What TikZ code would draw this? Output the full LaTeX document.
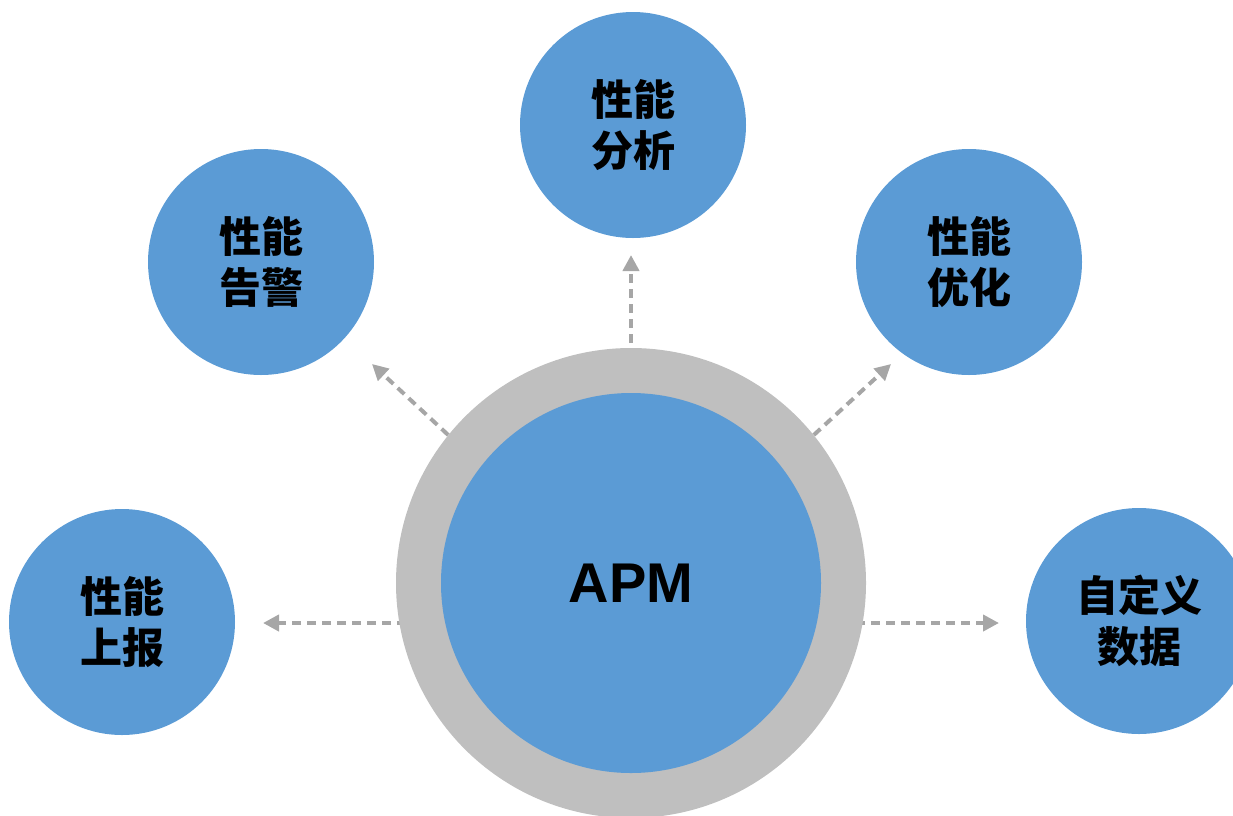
\documentclass[tikz,border=0pt]{standalone}
\usepackage{fontspec}
\setmainfont{Liberation Sans}
\newfontfamily\cjk{Noto Sans CJK SC}
\usetikzlibrary{arrows.meta,backgrounds}
\definecolor{bubble}{HTML}{5B9BD5}
\definecolor{ringgray}{HTML}{BFBFBF}
\definecolor{arrowgray}{HTML}{A6A6A6}
\tikzset{
  bubble/.style={circle, fill=bubble, draw=none, minimum size=226pt, inner sep=0pt,
    align=center, font=\cjk\bfseries\fontsize{42}{51}\selectfont},
  ringnode/.style={circle, fill=ringgray, draw=none, minimum size=470pt, inner sep=0pt},
  corenode/.style={circle, fill=bubble, draw=none, minimum size=380pt, inner sep=0pt,
    font=\bfseries\fontsize{56}{60}\selectfont},
  flow/.style={draw=arrowgray, line width=4pt, dash pattern=on 9pt off 6pt,
    -{Triangle[length=16pt,width=16pt,fill=arrowgray]}}
}
\begin{document}
\begin{tikzpicture}[x=1pt,y=-1pt]
  \useasboundingbox (0,0) rectangle (1233,815);
  \clip (0,0) rectangle (1233,815);

  % hub: grey ring with the blue core
  \node[ringnode] (ring) at (631,583) {};
  \node[corenode] (core) at (631,583) {APM};

  % surrounding topics
  \node[bubble] (analyse) at (633,125) {性能\\分析};
  \node[bubble] (alarm)   at (261,262) {性能\\告警};
  \node[bubble] (tune)    at (969,262) {性能\\优化};
  \node[bubble] (report)  at (122,622) {性能\\上报};
  \node[bubble] (custom)  at (1139,621) {自定义\\数据};

  % arrow tips stop short of the bubbles
  \coordinate (tipA) at (631,255);
  \coordinate (tipB) at (372,364);
  \coordinate (tipC) at (891,364);
  \coordinate (tipD) at (263,623);
  \coordinate (tipE) at (999,623);

  % arrows run out from under the ring
  \begin{scope}[on background layer]
    \draw[flow] (ring.center) -- (tipA);
    \draw[flow] (ring.141) -- (tipB);
    \draw[flow] (ring.39) -- (tipC);
    \draw[flow] (ring.center |- tipD) -- (tipD);
    \draw[flow] (ring.center |- tipE) -- (tipE);
  \end{scope}
\end{tikzpicture}
\end{document}
